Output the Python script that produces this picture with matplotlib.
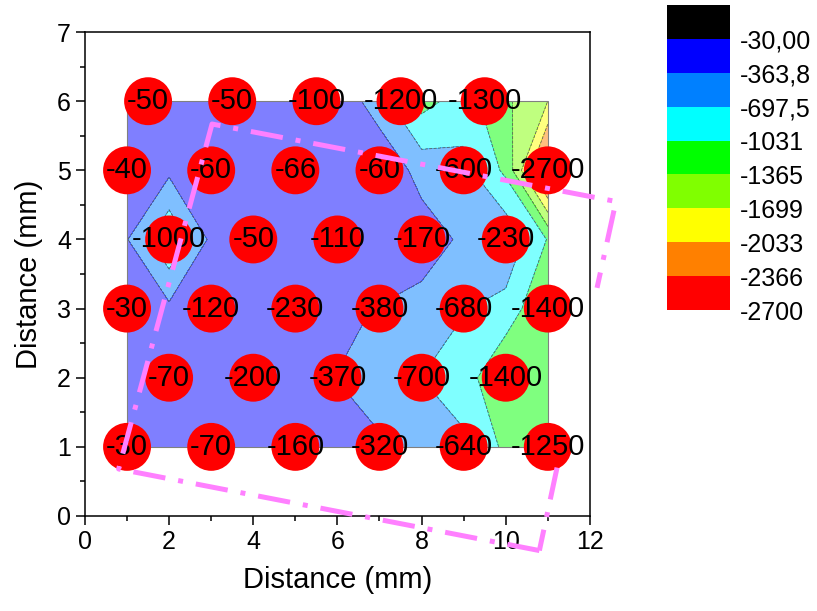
import numpy as np
import matplotlib.pyplot as plt

plt.rcParams['font.family'] = ['Liberation Sans', 'DejaVu Sans']

# measured points (red dots with their values)
pt_x = [1.5, 3.5, 5.5, 7.5, 9.5,
        1, 3, 5, 7, 9, 11,
        2, 4, 6, 8, 10,
        1, 3, 5, 7, 9, 11,
        2, 4, 6, 8, 10,
        1, 3, 5, 7, 9, 11]
pt_y = [6, 6, 6, 6, 6,
        5, 5, 5, 5, 5, 5,
        4, 4, 4, 4, 4,
        3, 3, 3, 3, 3, 3,
        2, 2, 2, 2, 2,
        1, 1, 1, 1, 1, 1]
pt_val = [-50, -50, -100, -1200, -1300,
          -40, -60, -66, -60, -600, -2700,
          -1000, -50, -110, -170, -230,
          -30, -120, -230, -380, -680, -1400,
          -70, -200, -370, -700, -1400,
          -30, -70, -160, -320, -640, -1250]

# gridded values behind the filled contour
grid_x = [1, 2, 3, 4, 5, 6, 7, 8, 9, 10, 11]
grid_y = [1, 2, 3, 4, 5, 6]
grid_z = [
    [-30, -50, -70, -110, -160, -240, -320, -500, -640, -1110, -1250],
    [-40, -70, -120, -200, -240, -370, -520, -700, -850, -1400, -1250],
    [-30, -295, -120, -150, -230, -300, -380, -490, -680, -800, -1400],
    [-350, -1000, -295, -50, -80, -110, -100, -170, -430, -450, -1050],
    [-40, -295, -60, -60, -66, -70, -60, -500, -600, -1100, -2700],
    [-50, -50, -50, -50, -70, -100, -560, -1150, -880, -1300, -1700],
]

levels = [-2700, -2366, -2033, -1699, -1365, -1031, -697.5, -363.8, -30]
level_labels = ['-2700', '-2366', '-2033', '-1699', '-1365', '-1031',
                '-697,5', '-363,8', '-30,00']
band_colors = ['#ff0000', '#ff8000', '#ffff00', '#80ff00', '#00ff00',
               '#00ffff', '#0080ff', '#0000ff']
over_color = '#000000'

# dash-dot outline (drawn in two visible pieces)
outline_x = [10.8, 0.8, 3.02, 12.62, 12.17]
outline_y = [-0.5, 0.68, 5.67, 4.55, 3.3]
outline_end_x = [11.22, 10.8]
outline_end_y = [0.7, -0.5]

fig = plt.figure(figsize=(8.17, 6.11), dpi=100)
ax = fig.add_axes([0.104, 0.1555, 0.618, 0.792])

X, Y = np.meshgrid(grid_x, grid_y)
Z = np.array(grid_z)
ax.contourf(X, Y, Z, levels=levels, colors=band_colors, alpha=0.5, zorder=1)
ax.contour(X, Y, Z, levels=levels[1:-1], colors='#606060', linewidths=0.6, zorder=2)
ax.add_patch(plt.Rectangle((min(grid_x), min(grid_y)), max(grid_x) - min(grid_x),
                           max(grid_y) - min(grid_y), fill=False,
                           edgecolor='#808080', linewidth=0.8, zorder=2))

ax.scatter(pt_x, pt_y, s=1190, color='#ff0000', edgecolors='none', zorder=3)
for x, y, v in zip(pt_x, pt_y, pt_val):
    ax.text(x, y, str(v), ha='center', va='center', fontsize=21, zorder=4)

for ox, oy in [(outline_x, outline_y), (outline_end_x, outline_end_y)]:
    ax.plot(ox, oy, color='#ff80ff', linewidth=3.6,
            dashes=(6.5, 2.6, 1, 2.6), clip_on=False, zorder=5)

ax.set_xlim(0, 12)
ax.set_ylim(0, 7)
ax.set_xticks(range(0, 13, 2))
ax.set_yticks(range(0, 8))
ax.set_xticks(range(1, 12, 2), minor=True)
ax.set_yticks(np.arange(0.5, 7, 1), minor=True)
ax.tick_params(which='major', direction='out', length=6.5, width=1.1,
               labelsize=18, top=False, right=False)
ax.tick_params(which='minor', direction='out', length=3.5, width=1.1,
               top=False, right=False)
for sp in ax.spines.values():
    sp.set_linewidth(1.1)
ax.set_xlabel('Distance (mm)', fontsize=21, labelpad=9)
ax.set_ylabel('Distance (mm)', fontsize=21, labelpad=10)

# colour scale on the right
cax = fig.add_axes([0.8164, 0.4926, 0.0771, 0.4992])
all_colors = band_colors + [over_color]
cax.bar([0.5] * len(all_colors), [1] * len(all_colors),
        bottom=range(len(all_colors)), width=1, color=all_colors)
cax.set_xlim(0, 1)
cax.set_ylim(0, len(all_colors))
cax.set_xticks([])
cax.set_yticks(range(len(level_labels)))
cax.set_yticklabels(level_labels)
cax.yaxis.tick_right()
cax.tick_params(axis='y', length=0, pad=7, labelsize=18)
for sp in cax.spines.values():
    sp.set_visible(False)

fig.savefig('out.png', dpi=100)
